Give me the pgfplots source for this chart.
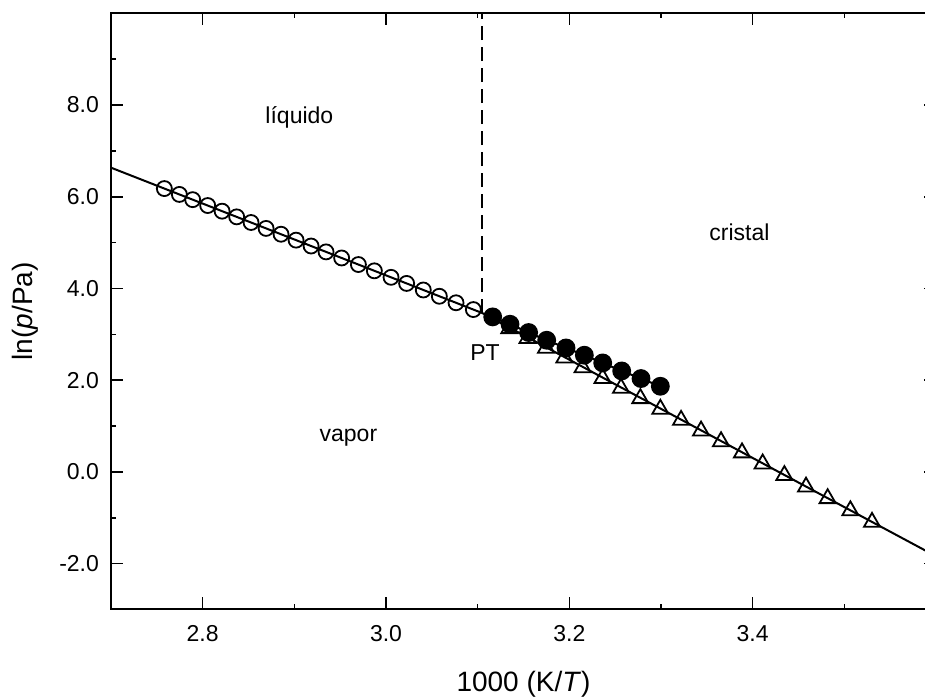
\documentclass[border=0pt]{standalone}
\usepackage{fontspec}
\setmainfont{Liberation Sans}
\usepackage{pgfplots}
\pgfplotsset{compat=1.18}
\begin{document}
\begin{tikzpicture}[font=\fontsize{11.5}{13}\selectfont]
\path[use as bounding box] (-55.5pt,-45pt) rectangle (407pt,304.7pt);
\begin{axis}[
 scale only axis, width=412.5pt, height=298pt,
 xmin=2.7, xmax=3.6, ymin=-3, ymax=10,
 axis line style={line width=1pt},
 tick align=inside, tick pos=both,
 major tick length=6pt, minor tick length=2.5pt,
 tick style={line width=0.8pt, black},
 xtick={2.8,3.0,3.2,3.4}, minor xtick={2.9,3.1,3.3,3.5},
 ytick={-2,0,2,4,6,8}, minor ytick={-1,1,3,5,7,9},
 /pgf/number format/assume math mode=true,
 xticklabel style={/pgf/number format/fixed, /pgf/number format/fixed zerofill, /pgf/number format/precision=1, yshift=-4.5pt},
 yticklabel style={/pgf/number format/fixed, /pgf/number format/fixed zerofill, /pgf/number format/precision=1, xshift=-2.5pt},
 xlabel={1000 (K/\textit{T})},
 ylabel={ln(\textit{p}/Pa)},
 xlabel style={font=\fontsize{14}{16}\selectfont, at={(axis description cs:0.5,-0.1258)}, anchor=center},
 ylabel style={font=\fontsize{14}{16}\selectfont, at={(axis description cs:-0.1042,0.5)}, anchor=center},
]
% fitted lines
\addplot[black, line width=1pt] coordinates {(2.7,6.635) (3.105,3.464)};
\addplot[black, line width=1pt] coordinates {(3.105,3.464) (3.6,-1.84)};
% triple point vertical
\addplot[black, line width=0.9pt, dash pattern=on 7pt off 3.5pt] coordinates {(3.105,3.46) (3.105,10)};
% liquid (open circles)
\addplot[black, only marks, mark=o, mark size=3.75pt, line width=0.9pt] table {
x y
2.7582 6.179
2.7746 6.051
2.7891 5.937
2.8055 5.809
2.8212 5.686
2.8371 5.562
2.8528 5.439
2.8692 5.310
2.8855 5.183
2.9019 5.054
2.9183 4.926
2.9346 4.798
2.9516 4.665
2.9699 4.522
2.9873 4.385
3.0055 4.243
3.0225 4.110
3.0407 3.967
3.0582 3.830
3.0764 3.688
3.0953 3.540
};
% crystal (open triangles)
\addplot[black, only marks, mark=triangle, mark size=4.65pt, line width=0.9pt] table {
x y
3.1346 3.127
3.1545 2.914
3.1746 2.700
3.1946 2.486
3.2145 2.274
3.2363 2.041
3.2564 1.826
3.2775 1.601
3.2993 1.368
3.3219 1.127
3.3437 0.894
3.3655 0.661
3.3884 0.417
3.4109 0.176
3.4346 -0.077
3.4582 -0.329
3.4818 -0.581
3.5066 -0.846
3.5302 -1.098
};
% supercooled liquid (filled circles)
\addplot[black, line width=1pt, mark=*, mark size=4.2pt] table {
x y
3.1164 3.380
3.1353 3.220
3.1556 3.039
3.1753 2.871
3.1964 2.703
3.2164 2.544
3.2364 2.376
3.2571 2.201
3.2782 2.035
3.2993 1.867
};
\node at (axis cs:2.9055,7.74) {líquido};
\node at (axis cs:3.3855,5.23) {cristal};
\node at (axis cs:3.108,2.61) {PT};
\node at (axis cs:2.959,0.753) {vapor};
\end{axis}
\end{tikzpicture}
\end{document}
